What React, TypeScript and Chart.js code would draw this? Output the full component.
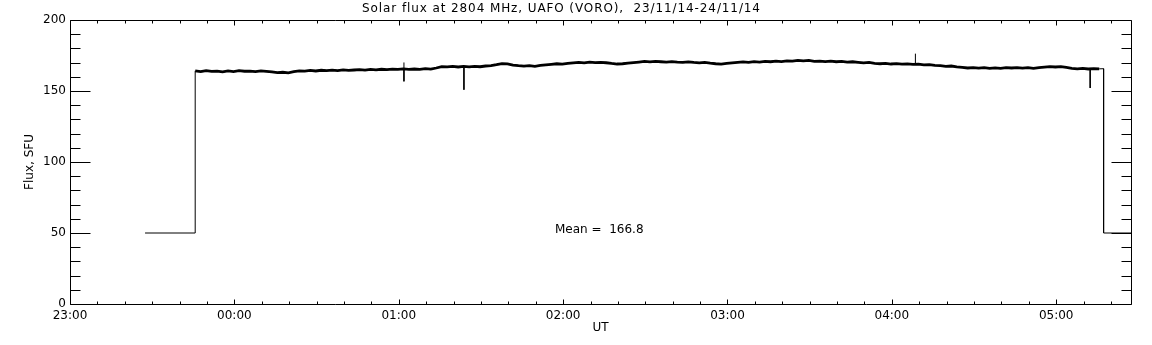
import { useEffect, useRef } from "react";
import { Chart, registerables } from "chart.js";

Chart.register(...registerables);

// ---- texts ----
const titleText = "Solar flux at 2804 MHz, UAFO (VORO),  23/11/14-24/11/14";
const xAxisTitle = "UT";
const yAxisTitle = "Flux, SFU";
const meanLabel = "Mean =  166.8";

// ---- axes (x in minutes after 23:00 UT) ----
const startHour = 23;
const xMinMinutes = 0;
const xMaxMinutes = 387.3;
const xMajorStep = 60;
const xMinorStep = 10;
const yMin = 0;
const yMax = 200;
const yMajorStep = 50;
const yMinorStep = 10;

// ---- receiver off (50 SFU level) before and after the session ----
const leadMinutes = [27.4, 45.7, 45.7];
const leadFlux = [50, 50, 164.2];
const tailMinutes = [375.7, 377.3, 377.3, 387.3];
const tailFlux = [165.6, 165.7, 50, 50];

// ---- measured flux, one sample every 2 minutes from 23:45.7 ----
const fluxStartMinute = 45.7;
const fluxStepMinutes = 2;
const flux = [
  164.2, 163.6, 164.4, 163.8, 164.0,
  163.5, 164.1, 163.7, 164.3, 163.9,
  164.0, 163.6, 164.2, 163.8, 163.4,
  162.9, 163.2, 162.8, 163.6, 164.2,
  164.0, 164.5, 164.1, 164.6, 164.3,
  164.7, 164.4, 164.9, 164.5, 164.8,
  165.1, 164.7, 165.2, 164.9, 165.3,
  165.0, 165.4, 165.2, 165.6, 165.3,
  165.5, 165.2, 165.7, 165.4, 166.2,
  167.2, 167.0, 167.4, 166.9, 167.3,
  167.0, 167.4, 167.1, 167.6, 167.8,
  168.5, 169.3, 169.1, 168.2, 167.8,
  167.5, 167.8, 167.4, 168.0, 168.4,
  168.8, 169.2, 168.9, 169.5, 169.8,
  170.1, 169.8, 170.3, 170.0, 170.2,
  169.9, 169.4, 169.0, 169.2, 169.6,
  170.0, 170.4, 170.8, 170.5, 170.9,
  170.6, 170.3, 170.7, 170.4, 170.2,
  170.5, 170.1, 169.8, 170.2, 169.6,
  169.2, 168.9, 169.4, 169.8, 170.2,
  170.5, 170.2, 170.7, 170.4, 170.8,
  170.6, 171.0, 170.7, 171.2, 171.0,
  171.6, 171.2, 171.5, 170.9, 171.1,
  170.7, 171.0, 170.6, 170.9, 170.4,
  170.6, 170.2, 169.8, 170.1, 169.5,
  169.2, 169.5, 169.0, 169.3, 168.9,
  169.1, 168.7, 168.9, 168.4, 168.6,
  168.1, 167.8, 167.4, 167.6, 167.0,
  166.6, 166.2, 166.5, 166.1, 166.4,
  166.0, 166.3, 165.9, 166.4, 166.2,
  166.5, 166.1, 166.4, 166.0, 166.5,
  166.8, 167.1, 166.9, 167.2, 166.6,
  166.0, 165.6, 165.9, 165.5, 165.8, 165.6,
];

// ---- short spikes ----
const spikeMinutes = [121.9, 121.9, 143.8, 308.6, 372.4];
const spikeBase = [165.3, 165.3, 167.2, 168.8, 165.8];
const spikePeak = [170.1, 156.8, 150.9, 176.3, 152.1];

const FONT = "'DejaVu Sans', 'Liberation Sans', sans-serif";

function fmtTime(m: number) {
  const h = (startHour + Math.round(m / 60)) % 24;
  return String(h).padStart(2, "0") + ":00";
}

const framePlugin = {
  id: "idlFrame",
  afterDraw(chart: any) {
    const { ctx, chartArea: a, scales } = chart;
    const x = scales.x;
    const y = scales.y;
    ctx.save();
    ctx.strokeStyle = "#000";
    ctx.lineWidth = 1;
    ctx.beginPath();
    const L = Math.round(a.left) + 0.5;
    const R = Math.round(a.right) + 0.5;
    const T = Math.round(a.top) + 0.5;
    const B = Math.round(a.bottom) + 0.5;
    ctx.rect(L, T, R - L, B - T);
    for (let v = yMin; v <= yMax + 0.001; v += yMinorStep) {
      const py = Math.round(y.getPixelForValue(v)) + 0.5;
      const len = v % yMajorStep === 0 ? 20 : 10;
      ctx.moveTo(L, py);
      ctx.lineTo(L + len, py);
      ctx.moveTo(R, py);
      ctx.lineTo(R - len, py);
    }
    for (let m = xMinMinutes; m <= xMaxMinutes; m += xMinorStep) {
      const px = Math.round(x.getPixelForValue(m)) + 0.5;
      const len = m % xMajorStep === 0 ? 5 : 3;
      ctx.moveTo(px, B);
      ctx.lineTo(px, B - len);
      ctx.moveTo(px, T);
      ctx.lineTo(px, T + len);
    }
    ctx.stroke();

    ctx.fillStyle = "#000";
    ctx.font = "12px " + FONT;
    ctx.textBaseline = "middle";
    ctx.textAlign = "center";
    ctx.save();
    try {
      (ctx as any).letterSpacing = "0.9px";
    } catch (e) {}
    ctx.fillText(titleText, 561.5, 9);
    ctx.restore();
    ctx.fillText(xAxisTitle, (a.left + a.right) / 2, 328);
    ctx.textAlign = "left";
    ctx.fillText(meanLabel, 555, 230);
    ctx.translate(30, (a.top + a.bottom) / 2);
    ctx.rotate(-Math.PI / 2);
    ctx.textAlign = "center";
    ctx.fillText(yAxisTitle, 0, 0);
    ctx.restore();
  },
};

export default function App() {
  const ref = useRef<HTMLCanvasElement | null>(null);

  useEffect(() => {
    if (!ref.current) return;
    const fluxPts = flux.map((v, i) => ({ x: fluxStartMinute + i * fluxStepMinutes, y: v }));
    const offPts: any[] = [];
    leadMinutes.forEach((m, i) => offPts.push({ x: m, y: leadFlux[i] }));
    offPts.push({ x: (leadMinutes[leadMinutes.length - 1] + tailMinutes[0]) / 2, y: null });
    tailMinutes.forEach((m, i) => offPts.push({ x: m, y: tailFlux[i] }));
    const spikePts: any[] = [];
    spikeMinutes.forEach((m, i) => {
      spikePts.push({ x: m, y: spikeBase[i] });
      spikePts.push({ x: m, y: spikePeak[i] });
      spikePts.push({ x: m + 0.01, y: null });
    });

    const chart = new Chart(ref.current, {
      type: "line",
      data: {
        datasets: [
          {
            data: fluxPts,
            borderColor: "#000",
            borderWidth: 2.8,
            pointRadius: 0,
            tension: 0,
          },
          {
            data: spikePts,
            borderColor: "#000",
            borderWidth: 1,
            pointRadius: 0,
            tension: 0,
            spanGaps: false,
          },
          {
            data: offPts,
            borderColor: "#000",
            borderWidth: 1,
            pointRadius: 0,
            tension: 0,
            spanGaps: false,
          },
        ],
      },
      options: {
        animation: false,
        responsive: false,
        devicePixelRatio: 1,
        layout: { padding: { left: 0, right: 21, top: 20, bottom: 0 } },
        plugins: { legend: { display: false }, title: { display: false }, tooltip: { enabled: false } },
        scales: {
          x: {
            type: "linear",
            min: xMinMinutes,
            max: xMaxMinutes,
            grid: { display: false, drawTicks: false },
            border: { display: false },
            ticks: {
              stepSize: xMajorStep,
              includeBounds: false,
              autoSkip: false,
              maxRotation: 0,
              padding: 5,
              color: "#000",
              font: { family: FONT, size: 12 },
              callback: (v: any) => fmtTime(Number(v)),
            },
            afterFit: (s: any) => {
              s.height = 41;
            },
          },
          y: {
            type: "linear",
            min: yMin,
            max: yMax,
            grid: { display: false, drawTicks: false },
            border: { display: false },
            ticks: {
              stepSize: yMajorStep,
              padding: 4,
              color: "#000",
              font: { family: FONT, size: 12 },
            },
            afterFit: (s: any) => {
              s.width = 70;
            },
          },
        },
      },
      plugins: [framePlugin],
    });
    return () => chart.destroy();
  }, []);

  return (
    <div style={{ position: "fixed", left: 0, top: 0, width: 1152, height: 345, background: "#fff" }}>
      <canvas ref={ref} width={1152} height={345} />
    </div>
  );
}
